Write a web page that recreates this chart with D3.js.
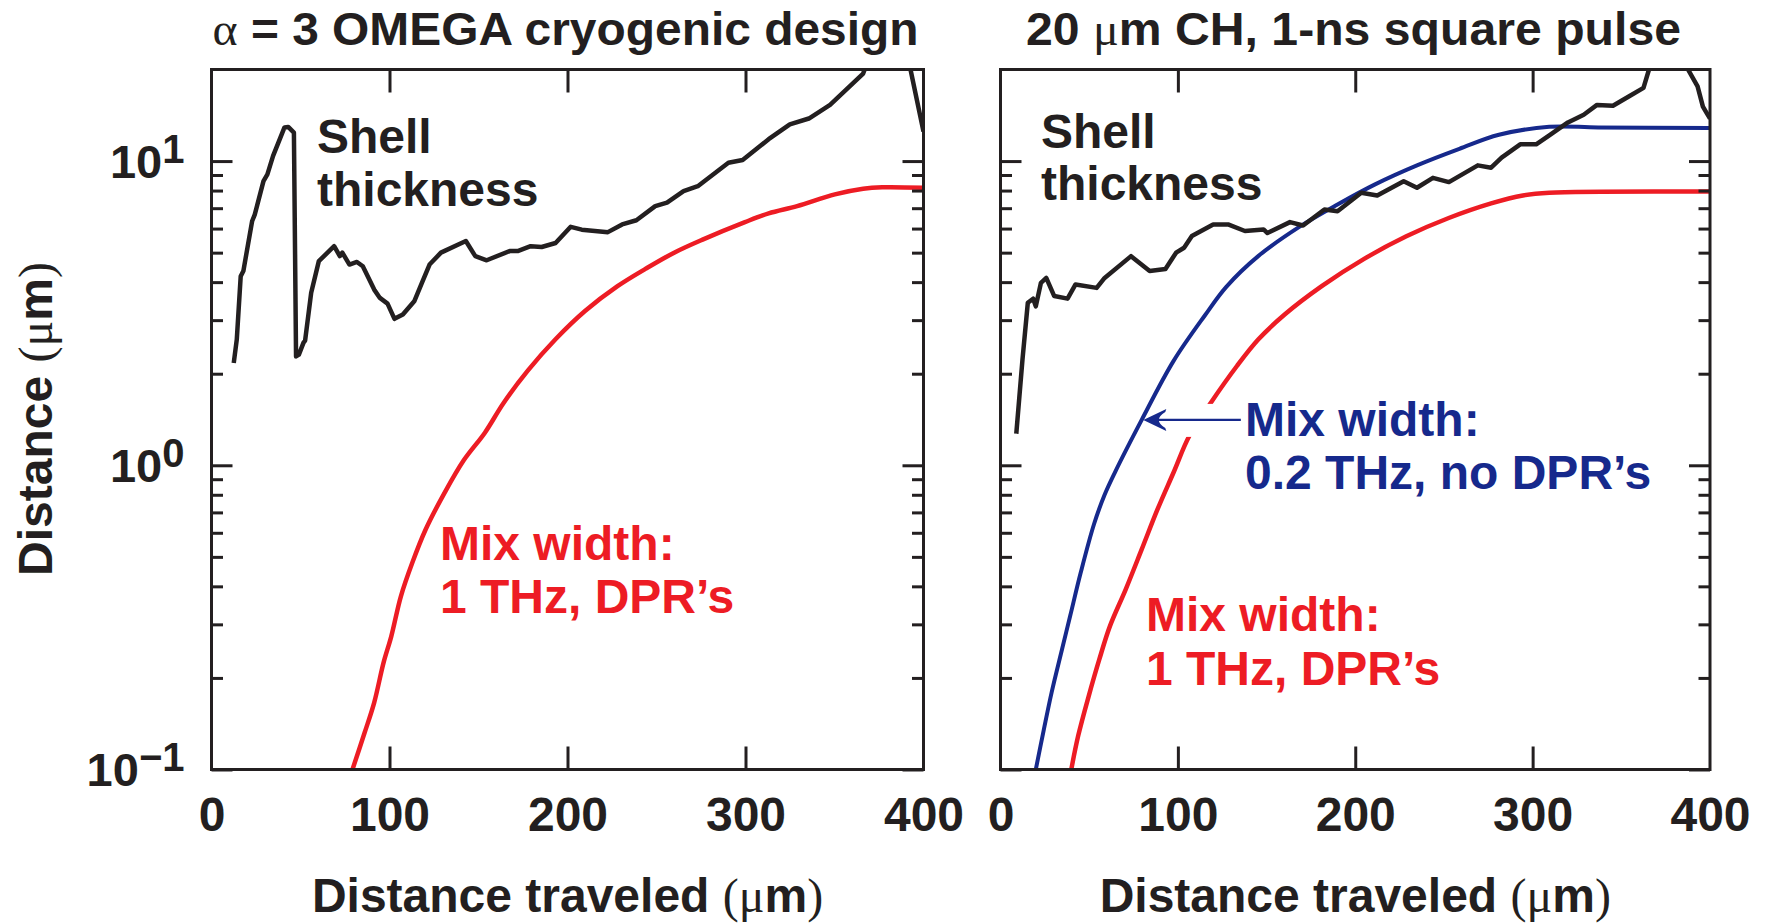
<!DOCTYPE html>
<html>
<head>
<meta charset="utf-8">
<script src="https://cdn.jsdelivr.net/npm/d3@7"></script>
<style>
    body { margin: 0; background: #fff; }
    text { font-family: "Liberation Sans", Arial, Helvetica, sans-serif; font-weight: bold; fill: #231f20; }
    .sym { font-family: "Liberation Serif", "Times New Roman", serif; font-weight: normal; }
</style>
</head>
<body>
<svg id="chart" width="1767" height="924"></svg>
<script>
// ---- data: [distance traveled (um), distance (um)] ----
const xTicks = [0, 100, 200, 300, 400];
const xInnerTicks = [100, 200, 300];
const yMajor = [0.1, 1, 10];
const yMinor = [0.2, 0.3, 0.4, 0.5, 0.6, 0.7, 0.8, 0.9, 2, 3, 4, 5, 6, 7, 8, 9];
const yExp = ['\u22121', '0', '1'];

const shellLeft = [[12.5, 2.17], [14.2, 2.59], [16.4, 4.18], [17.9, 4.35], [22.8, 6.34], [24.3, 6.67],
    [29.2, 8.59], [31.4, 9.04], [34.6, 10.4], [41, 12.9], [43.1, 12.95], [46.3, 12.4], [47.5, 2.28],
    [49.1, 2.31], [51.7, 2.53], [52.6, 2.57], [56, 3.69], [60.3, 4.69], [68.9, 5.25], [72.1, 4.87],
    [73.5, 5.0], [77.5, 4.57], [81.7, 4.66], [85, 4.51], [91.4, 3.78], [94.6, 3.55], [98.9, 3.40],
    [102.8, 3.03], [107.5, 3.13], [113.9, 3.46], [118.2, 3.98], [122.5, 4.57], [128.9, 5.0],
    [142.9, 5.46], [148.2, 4.87], [154.6, 4.72], [167.5, 5.06], [172, 5.06], [179.3, 5.25],
    [185.5, 5.22], [193.3, 5.38], [201.8, 6.08], [208, 5.95], [222.7, 5.84], [230.7, 6.19],
    [238.7, 6.39], [249.3, 7.11], [255.9, 7.30], [265.2, 7.97], [273.2, 8.27], [290.4, 9.88],
    [298.4, 10.08], [313, 11.8], [324.9, 13.2], [335.6, 13.8], [347.5, 15.3], [366.1, 19.4],
    [372, 24], [388, 24], [392.7, 20], [400, 12.5]];

const mixLeft = [[79.2, 0.1], [86, 0.132], [91.4, 0.166], [96.7, 0.225], [101, 0.274], [106.4, 0.371],
    [112.8, 0.478], [120.3, 0.615], [131, 0.813], [141.8, 1.04], [153.6, 1.28], [164, 1.6],
    [177.8, 2.05], [193.4, 2.6], [210, 3.22], [228.1, 3.88], [244, 4.43], [259.9, 5.0],
    [275.9, 5.52], [299.7, 6.3], [313, 6.73], [329, 7.11], [350.2, 7.77], [366.1, 8.11],
    [376.8, 8.2], [400, 8.17]];

const shellRight = [[8.9, 1.27], [12.4, 2.23], [15.4, 3.42], [18.4, 3.53], [19.9, 3.33], [22.8, 3.98],
    [25.8, 4.13], [30.3, 3.60], [37.8, 3.53], [42.3, 3.93], [54.2, 3.83], [58.7, 4.13], [73.6, 4.87],
    [84.1, 4.35], [93, 4.42], [99, 5.0], [103.5, 5.19], [107.9, 5.67], [119.9, 6.19], [128.3, 6.19],
    [137.8, 5.89], [148.3, 5.96], [150.5, 5.8], [163.2, 6.3], [170.6, 6.14], [182.6, 6.93],
    [190, 6.84], [203.4, 7.87], [212.4, 7.71], [227.3, 8.59], [234.8, 8.17], [243.8, 8.81],
    [252.8, 8.53], [269.1, 9.68], [276.6, 9.51], [282.5, 10.26], [293, 11.35], [302, 11.35],
    [309.4, 12.15], [319.9, 13.4], [328.8, 14.2], [336.3, 15.3], [345.3, 15.2], [354.2, 16.3],
    [362.5, 17.4], [365.6, 20], [370, 25], [384, 25], [387.6, 20], [393, 17.6], [396, 15.1],
    [399, 14.1], [400, 13.8]];

const mixRightLow = [[19.9, 0.1], [24.4, 0.135], [28.8, 0.179], [34.8, 0.25], [39.3, 0.32],
    [45.2, 0.443], [52.7, 0.64], [58.7, 0.8], [64.6, 0.95], [79.6, 1.41], [97.5, 2.2],
    [115.4, 3.12], [127.3, 3.86], [145.3, 4.87], [169.1, 6.11], [190, 7.2], [210.9, 8.37],
    [234.8, 9.68], [258.7, 10.97], [281, 12.2], [309.4, 12.96], [337, 12.9], [400, 12.85]];

const mixRight = [[39.9, 0.1], [43.8, 0.129], [49.7, 0.174], [55.7, 0.23], [61.7, 0.296], [70.6, 0.391],
    [79.6, 0.529], [88.5, 0.716], [97.5, 0.945], [106.5, 1.25], [118.4, 1.6], [133.3, 2.12],
    [145.3, 2.59], [160.2, 3.13], [181.1, 3.88], [205, 4.77], [228.8, 5.66], [252.7, 6.5],
    [276.6, 7.26], [294.5, 7.71], [309.4, 7.87], [400, 7.94]];

// arrow for the blue label, in data units
const arrowFrom = [135.5, 1.41];
const arrowTo = [80.5, 1.41];

const BLACK = '#231f20', RED = '#ed1c24', BLUE = '#16298c';
const FS = 48;

let svg = d3.select('#chart');
let plotTop = 69.5, plotBottom = 769.5;

let panels = [
    {
        id: 'L', x0: 211.5, x1: 923.5, yLabels: true,
        title: [{t: '\u03b1', sym: true}, {t: ' = 3 OMEGA cryogenic design'}], titleX: 212.5, titleLen: 706,
        series: [
            {data: shellLeft, color: BLACK, width: 4.5, smooth: false},
            {data: mixLeft, color: RED, width: 4.5, smooth: true}
        ],
        notes: [
            {t: 'Shell', x: 317, y: 152.5, c: BLACK}, {t: 'thickness', x: 317, y: 205.5, c: BLACK},
            {t: 'Mix width:', x: 440, y: 560, c: RED}, {t: '1 THz, DPR\u2019s', x: 440, y: 613, c: RED}
        ]
    },
    {
        id: 'R', x0: 1000.5, x1: 1710, yLabels: false,
        title: [{t: '20 '}, {t: '\u03bc', sym: true}, {t: 'm CH, 1-ns square pulse'}], titleX: 1026, titleLen: 655,
        series: [
            {data: mixRight, color: RED, width: 4.5, smooth: true, knockout: true},
            {data: mixRightLow, color: BLUE, width: 4, smooth: true},
            {data: shellRight, color: BLACK, width: 4.5, smooth: false}
        ],
        notes: [
            {t: 'Shell', x: 1041, y: 147.5, c: BLACK}, {t: 'thickness', x: 1041, y: 200, c: BLACK},
            {t: 'Mix width:', x: 1245, y: 436, c: BLUE}, {t: '0.2 THz, no DPR\u2019s', x: 1245, y: 488.5, c: BLUE},
            {t: 'Mix width:', x: 1146, y: 630.5, c: RED}, {t: '1 THz, DPR\u2019s', x: 1146, y: 684.5, c: RED}
        ],
        arrow: true
    }
];

panels.forEach(drawPanel);

// y axis title
let yt = svg.append('text')
    .attr('transform', 'translate(52,419) rotate(-90)')
    .attr('text-anchor', 'middle')
    .attr('font-size', FS);
yt.append('tspan').text('Distance ');
yt.append('tspan').attr('class', 'sym').text('(\u03bc');
yt.append('tspan').text('m');
yt.append('tspan').attr('class', 'sym').text(')');

function drawPanel(p) {
    let x = d3.scaleLinear().domain([0, 400]).range([p.x0, p.x1]);
    let y = d3.scaleLog().domain([0.1, 20]).range([plotBottom, plotTop]);
    let g = svg.append('g');

    svg.append('clipPath').attr('id', 'clip' + p.id)
        .append('rect')
        .attr('x', p.x0).attr('y', plotTop)
        .attr('width', p.x1 - p.x0).attr('height', plotBottom - plotTop);

    let line = function (smooth) {
        return d3.line()
            .x(function (d) { return x(d[0]); })
            .y(function (d) { return y(d[1]); })
            .curve(smooth ? d3.curveCatmullRom.alpha(0.5) : d3.curveLinear);
    };

    p.series.forEach(function (s) {
        g.append('path')
            .datum(s.data)
            .attr('clip-path', 'url(#clip' + p.id + ')')
            .attr('d', line(s.smooth))
            .attr('fill', 'none')
            .attr('stroke', s.color)
            .attr('stroke-width', s.width)
            .attr('stroke-linejoin', 'round');
        // white gap where the arrow passes over the red curve
        if (s.knockout) {
            g.append('rect')
                .attr('x', x(arrowTo[0]) + 24).attr('y', y(arrowFrom[1]) - 16)
                .attr('width', x(arrowFrom[0]) - x(arrowTo[0]) - 18).attr('height', 33)
                .attr('fill', '#fff');
        }
    });

    // ticks, all pointing inward
    let tickStyle = function (sel) {
        sel.select('.domain').remove();
        sel.selectAll('.tick line').attr('stroke', BLACK).attr('stroke-width', 3);
        sel.selectAll('.tick text').remove();
    };
    g.append('g').attr('transform', 'translate(0,' + plotBottom + ')')
        .call(d3.axisBottom(x).tickValues(xInnerTicks).tickSize(-23)).call(tickStyle);
    g.append('g').attr('transform', 'translate(0,' + plotTop + ')')
        .call(d3.axisTop(x).tickValues(xInnerTicks).tickSize(-23)).call(tickStyle);
    g.append('g').attr('transform', 'translate(' + p.x0 + ',0)')
        .call(d3.axisLeft(y).tickValues(yMajor).tickSize(-21)).call(tickStyle);
    g.append('g').attr('transform', 'translate(' + p.x0 + ',0)')
        .call(d3.axisLeft(y).tickValues(yMinor).tickSize(-11.5)).call(tickStyle);
    g.append('g').attr('transform', 'translate(' + p.x1 + ',0)')
        .call(d3.axisRight(y).tickValues(yMajor).tickSize(-21)).call(tickStyle);
    g.append('g').attr('transform', 'translate(' + p.x1 + ',0)')
        .call(d3.axisRight(y).tickValues(yMinor).tickSize(-11.5)).call(tickStyle);

    // frame
    g.append('rect')
        .attr('x', p.x0).attr('y', plotTop)
        .attr('width', p.x1 - p.x0).attr('height', plotBottom - plotTop)
        .attr('fill', 'none').attr('stroke', BLACK).attr('stroke-width', 3);

    // x tick labels
    let xl = g.append('g').attr('transform', 'translate(0,' + plotBottom + ')')
        .call(d3.axisBottom(x).tickValues(xTicks).tickSize(0).tickFormat(d3.format('d')));
    xl.select('.domain').remove();
    xl.attr('font-family', null).attr('font-size', null);
    xl.selectAll('.tick text')
        .attr('y', 61).attr('dy', null)
        .attr('font-size', FS).attr('fill', BLACK);

    // y tick labels with exponents
    if (p.yLabels) {
        let yl = g.append('g').attr('transform', 'translate(' + p.x0 + ',0)')
            .call(d3.axisLeft(y).tickValues(yMajor).tickSize(0).tickFormat(''));
        yl.select('.domain').remove();
        yl.attr('font-family', null).attr('font-size', null);
        yl.selectAll('.tick text').each(function (d, i) {
            let t = d3.select(this)
                .attr('x', -27).attr('y', 16).attr('dy', null)
                .attr('font-size', 47).attr('fill', BLACK);
            t.append('tspan').text('10');
            t.append('tspan').attr('font-size', 40).attr('dy', -15).text(yExp[i]);
        });
    }

    // title
    let tt = svg.append('text')
        .attr('x', p.titleX).attr('y', 45)
        .attr('font-size', 46)
        .attr('textLength', p.titleLen)
        .attr('lengthAdjust', 'spacingAndGlyphs');
    p.title.forEach(function (part) {
        tt.append('tspan').attr('class', part.sym ? 'sym' : null).text(part.t);
    });

    // x axis title
    let xt = svg.append('text')
        .attr('x', (p.x0 + p.x1) / 2).attr('y', 912)
        .attr('text-anchor', 'middle')
        .attr('font-size', FS);
    xt.append('tspan').text('Distance traveled ');
    xt.append('tspan').attr('class', 'sym').text('(\u03bc');
    xt.append('tspan').text('m');
    xt.append('tspan').attr('class', 'sym').text(')');

    // annotations
    p.notes.forEach(function (n) {
        svg.append('text')
            .attr('x', n.x).attr('y', n.y)
            .attr('font-size', FS)
            .style('fill', n.c)
            .text(n.t);
    });

    if (p.arrow) {
        let ax0 = x(arrowFrom[0]), ax1 = x(arrowTo[0]), ay = y(arrowTo[1]);
        svg.append('line')
            .attr('x1', ax0).attr('y1', ay).attr('x2', ax1 + 6).attr('y2', ay)
            .attr('stroke', BLUE).attr('stroke-width', 2.2);
        svg.append('path')
            .attr('transform', 'translate(' + ax1 + ',' + ay + ')')
            .attr('d', 'M0,0 L23,-11 L22,-8 Q9,0 22,8 L23,11 Z')
            .attr('fill', BLUE);
    }
}
</script>
</body>
</html>
